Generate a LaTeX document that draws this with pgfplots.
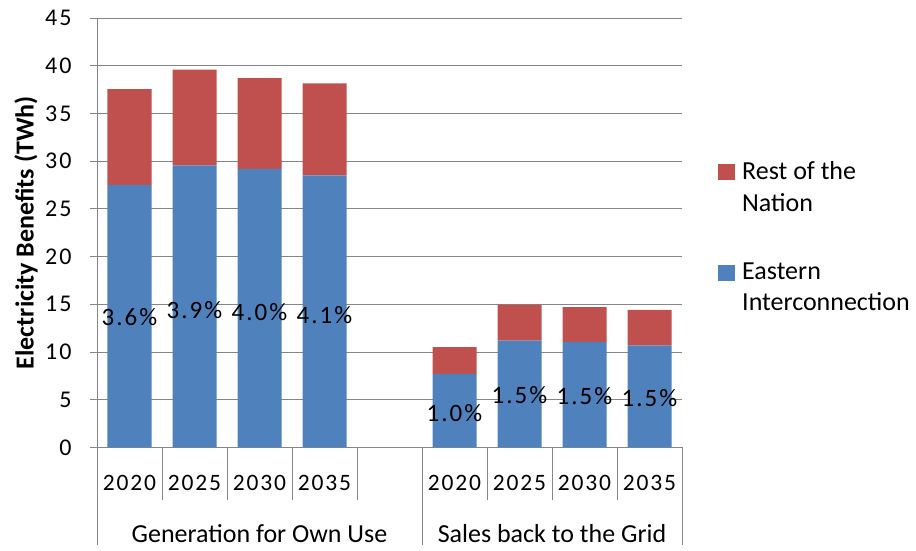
\documentclass[border=0pt]{standalone}
\usepackage{fontspec}
\setmainfont{Carlito}
\newfontfamily\numfont[LetterSpace=8]{Carlito}
\usepackage{pgfplots}
\pgfplotsset{compat=1.18}
\definecolor{eastblue}{RGB}{79,129,189}
\definecolor{restred}{RGB}{192,80,77}
\definecolor{gridgray}{RGB}{134,134,134}
\begin{document}
\begin{tikzpicture}
\path[use as bounding box] (0,0) rectangle (916pt,550pt);
\begin{axis}[
  at={(97pt,102.6pt)}, anchor=south west,
  scale only axis, width=585pt, height=429.4pt,
  xmin=-0.5, xmax=8.5, ymin=0, ymax=45,
  clip=false,
  ybar stacked, bar width=44pt,
  axis x line*=bottom, axis y line*=left,
  axis line style={gridgray, line width=0.8pt},
  ymajorgrids, grid style={gridgray, line width=0.8pt},
  ytick={0,5,...,45},
  xtick={0,1,2,3,5,6,7,8},
  xticklabels={2020,2025,2030,2035,2020,2025,2030,2035},
  tick align=outside, major tick length=7pt,
  ytick style={gridgray, line width=0.8pt},
  xtick style={draw=none},
  /pgf/number format/assume math mode=true,
  yticklabel style={font=\fontsize{24}{24}\selectfont\numfont, xshift=-15pt},
  xticklabel style={font=\fontsize{23.5}{23.5}\selectfont\numfont, anchor=base, yshift=-36pt},
  ylabel={Electricity Benefits (TWh)},
  ylabel style={font=\fontsize{26}{26}\selectfont\bfseries, at={(axis description cs:-0.1214,0.5)}, anchor=center},
  legend style={draw=none, fill=none, at={(1,0.49)}, anchor=west, xshift=36pt,
    inner sep=0pt, row sep=46pt, column sep=5pt,
    font=\fontsize{26}{31.5}\selectfont, cells={align=left, anchor=west}},
  legend cell align=left,
  reverse legend,
  legend image code/.code={\fill[#1,draw=none] (0pt,7pt) rectangle (17pt,23pt);},
]
\addplot[fill=eastblue, draw=none] coordinates {(0,27.5) (1,29.55) (2,29.2) (3,28.5) (5,7.7) (6,11.2) (7,11.05) (8,10.7)};
\addlegendentry{Eastern\\Interconnection}
\addplot[fill=restred, draw=none] coordinates {(0,10.05) (1,10.05) (2,9.5) (3,9.65) (5,2.8) (6,3.75) (7,3.65) (8,3.7)};
\addlegendentry{Rest of the\\Nation}
\coordinate (d1) at (axis cs:0.5,0);
\coordinate (d2) at (axis cs:1.5,0);
\coordinate (d3) at (axis cs:2.5,0);
\coordinate (d4) at (axis cs:3.5,0);
\coordinate (d5) at (axis cs:5.5,0);
\coordinate (d6) at (axis cs:6.5,0);
\coordinate (d7) at (axis cs:7.5,0);
\coordinate (g0) at (axis cs:-0.5,0);
\coordinate (g1) at (axis cs:4.5,0);
\coordinate (g2) at (axis cs:8.5,0);
\coordinate (l1) at (axis cs:2,0);
\coordinate (l2) at (axis cs:6.5,0);
\coordinate (p0) at (axis cs:0,13.64);
\coordinate (p1) at (axis cs:1,14.42);
\coordinate (p2) at (axis cs:2,14.16);
\coordinate (p3) at (axis cs:3,13.9);
\coordinate (p5) at (axis cs:5,3.57);
\coordinate (p6) at (axis cs:6,5.48);
\coordinate (p7) at (axis cs:7,5.33);
\coordinate (p8) at (axis cs:8,5.22);
\end{axis}
\foreach \c in {d1,d2,d3,d4,d5,d6,d7} {
  \draw[gridgray, line width=0.8pt] (\c) -- ++(0pt,-53pt);
}
\foreach \c in {g0,g1,g2} {
  \draw[gridgray, line width=0.8pt] (\c) -- ++(0pt,-98pt);
}
\node[font=\fontsize{26}{26}\selectfont, anchor=base, yshift=-95pt] at (l1) {Generation for Own Use};
\node[font=\fontsize{26}{26}\selectfont, anchor=base, yshift=-95pt] at (l2) {Sales back to the Grid};
\node[font=\fontsize{25}{25}\selectfont\numfont] at (p0) {3.6\%};
\node[font=\fontsize{25}{25}\selectfont\numfont] at (p1) {3.9\%};
\node[font=\fontsize{25}{25}\selectfont\numfont] at (p2) {4.0\%};
\node[font=\fontsize{25}{25}\selectfont\numfont] at (p3) {4.1\%};
\node[font=\fontsize{25}{25}\selectfont\numfont] at (p5) {1.0\%};
\node[font=\fontsize{25}{25}\selectfont\numfont] at (p6) {1.5\%};
\node[font=\fontsize{25}{25}\selectfont\numfont] at (p7) {1.5\%};
\node[font=\fontsize{25}{25}\selectfont\numfont] at (p8) {1.5\%};
\end{tikzpicture}
\end{document}
